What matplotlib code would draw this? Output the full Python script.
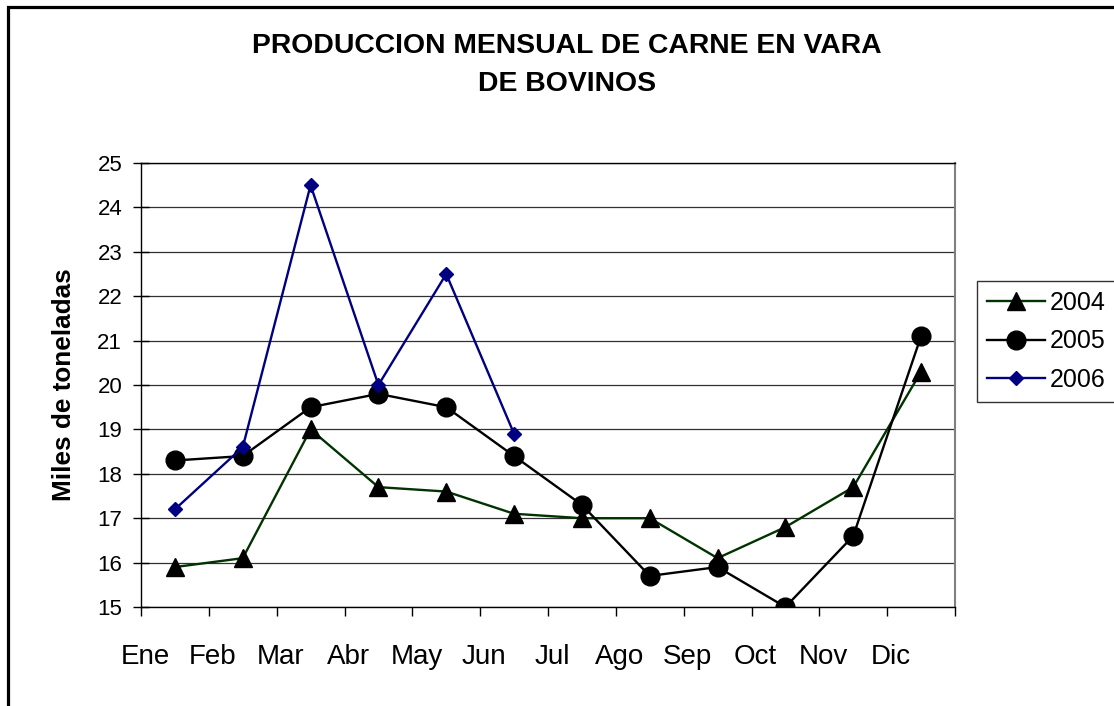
import matplotlib
matplotlib.use("Agg")
import matplotlib.pyplot as plt
from matplotlib.patches import Rectangle
import numpy as np

plt.rcParams['font.family'] = ['Liberation Sans', 'DejaVu Sans']

meses = ["Ene", "Feb", "Mar", "Abr", "May", "Jun", "Jul", "Ago", "Sep", "Oct", "Nov", "Dic"]
serie_2004 = [15.9, 16.1, 19.0, 17.7, 17.6, 17.1, 17.0, 17.0, 16.1, 16.8, 17.7, 20.3]
serie_2005 = [18.3, 18.4, 19.5, 19.8, 19.5, 18.4, 17.3, 15.7, 15.9, 15.0, 16.6, 21.1]
serie_2006 = [17.2, 18.6, 24.5, 20.0, 22.5, 18.9]
y_ticks = [15, 16, 17, 18, 19, 20, 21, 22, 23, 24, 25]
titulo = "PRODUCCION MENSUAL DE CARNE EN VARA\nDE BOVINOS"
ylabel = "Miles de toneladas"

W, H = 1114, 706
fig = plt.figure(figsize=(W / 100, H / 100), dpi=100)
fig.patch.set_facecolor("white")

L, R, T, B = 141, 955, 163, 607
ax = fig.add_axes([L / W, 1 - B / H, (R - L) / W, (B - T) / H])

n = len(meses)
x_all = np.arange(n) + 0.5
x_2006 = np.arange(len(serie_2006)) + 0.5

ax.plot(x_all, serie_2004, color="#003300", lw=1.7, marker="^", ms=13.5,
        markerfacecolor="black", markeredgecolor="black", label="2004", zorder=3)
ax.plot(x_all, serie_2005, color="black", lw=1.7, marker="o", ms=13.5,
        markerfacecolor="black", markeredgecolor="black", label="2005", zorder=3)
ax.plot(x_2006, serie_2006, color="#000080", lw=1.7, marker="D", ms=7.5,
        markerfacecolor="#000080", markeredgecolor="#000080", label="2006", zorder=4)

ax.set_xlim(0, n)
ax.set_ylim(y_ticks[0], y_ticks[-1])
ax.set_yticks(y_ticks)
ax.yaxis.grid(True, color="#303030", lw=0.9)
ax.set_axisbelow(True)

# category boundaries as major ticks, labels as minor ticks
ax.set_xticks(np.arange(n + 1))
ax.set_xticklabels([])
ax.set_xticks(np.arange(n) + 0.06, minor=True)
ax.set_xticklabels(meses, minor=True, fontsize=20)
ax.tick_params(axis="x", which="major", direction="out", length=6.5, width=1, color="black")
ax.tick_params(axis="x", which="minor", length=0, pad=27)
ax.tick_params(axis="y", direction="inout", length=11, width=1, pad=8, labelsize=16)

for s in ["left", "bottom", "top"]:
    ax.spines[s].set_color("black")
    ax.spines[s].set_linewidth(1)
ax.spines["right"].set_color("#808080")
ax.spines["right"].set_linewidth(1.5)

fig.text(0.509, 1 - 65 / H, titulo, ha="center", va="center", fontsize=20.4,
         fontweight="bold", linespacing=1.62)
fig.text(64 / W, 1 - 385 / H, ylabel, rotation=90, ha="center", va="center",
         fontsize=18.8, fontweight="bold")

leg = fig.legend(loc="upper left", bbox_to_anchor=(977 / W, 1 - 281 / H, 0.3, 0.0001),
                 mode="expand", fontsize=18, frameon=True, fancybox=False,
                 borderpad=0.4, labelspacing=0.58, handlelength=2.3,
                 handletextpad=0.2, borderaxespad=0)
leg.get_frame().set_edgecolor("black")
leg.get_frame().set_linewidth(1)

fig.patches.append(Rectangle((8 / W, -0.1), 1.2, 1.1 - 7 / H, transform=fig.transFigure,
                             fill=False, edgecolor="black", lw=2.3, clip_on=False))

fig.savefig("out.png", dpi=100, facecolor="white")
